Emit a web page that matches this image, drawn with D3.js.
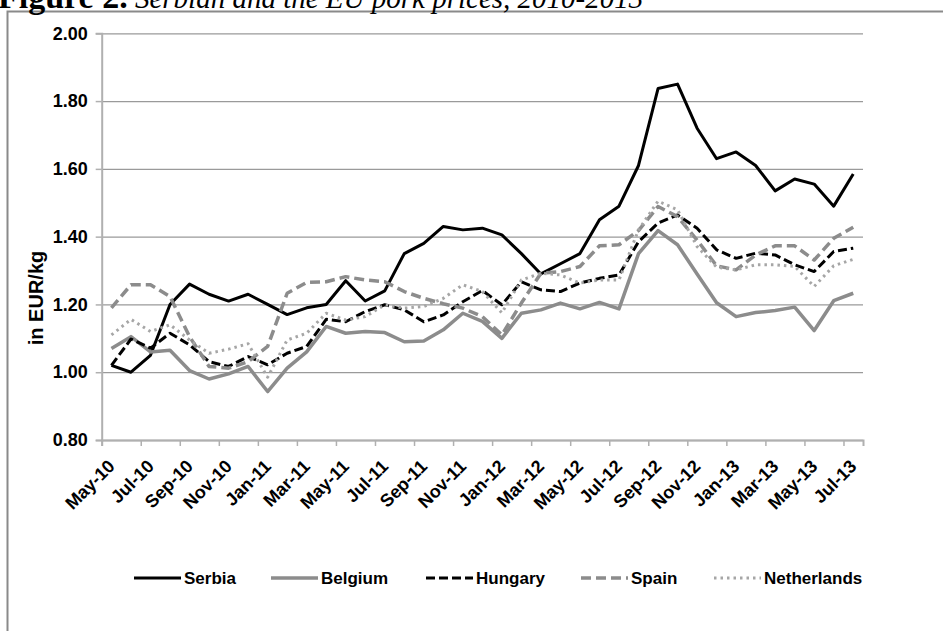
<!DOCTYPE html>
<html>
<head>
<meta charset="utf-8">
<script src="https://cdn.jsdelivr.net/npm/d3@7"></script>
<style>
  body { margin: 0; background: #fff; }
  text { font-family: "Liberation Sans", Arial, sans-serif; }
</style>
</head>
<body>
<script>
var months = ["May-10","Jun-10","Jul-10","Aug-10","Sep-10","Oct-10","Nov-10","Dec-10",
              "Jan-11","Feb-11","Mar-11","Apr-11","May-11","Jun-11","Jul-11","Aug-11",
              "Sep-11","Oct-11","Nov-11","Dec-11","Jan-12","Feb-12","Mar-12","Apr-12",
              "May-12","Jun-12","Jul-12","Aug-12","Sep-12","Oct-12","Nov-12","Dec-12",
              "Jan-13","Feb-13","Mar-13","Apr-13","May-13","Jun-13","Jul-13"];

var serbia = [1.02,1.00,1.05,1.20,1.26,1.23,1.21,1.23,1.20,1.17,1.19,1.20,1.27,1.21,
              1.24,1.35,1.38,1.43,1.42,1.425,1.405,1.35,1.29,1.32,1.35,1.45,1.49,1.61,
              1.837,1.85,1.72,1.63,1.65,1.61,1.535,1.57,1.555,1.49,1.585];
var belgium = [1.07,1.105,1.06,1.065,1.005,0.98,0.995,1.017,0.943,1.012,1.06,1.135,1.115,1.12,
               1.117,1.09,1.092,1.125,1.174,1.15,1.10,1.174,1.184,1.204,1.187,1.206,1.187,1.35,
               1.418,1.376,1.29,1.205,1.164,1.176,1.182,1.192,1.123,1.211,1.233];
var hungary = [1.02,1.098,1.071,1.115,1.081,1.031,1.017,1.046,1.022,1.056,1.076,1.156,1.149,1.179,
               1.199,1.184,1.149,1.169,1.208,1.241,1.199,1.267,1.243,1.238,1.263,1.277,1.287,1.385,
               1.44,1.464,1.425,1.361,1.336,1.351,1.346,1.317,1.297,1.356,1.366];
var spain = [1.19,1.258,1.258,1.223,1.105,1.017,1.012,1.031,1.076,1.233,1.265,1.267,1.282,1.272,
             1.267,1.238,1.218,1.202,1.189,1.164,1.11,1.204,1.292,1.297,1.312,1.373,1.376,1.418,
             1.489,1.459,1.39,1.314,1.302,1.346,1.373,1.373,1.331,1.395,1.428];
var netherlands = [1.11,1.156,1.12,1.14,1.095,1.056,1.068,1.084,0.985,1.095,1.115,1.174,1.154,1.164,
                   1.199,1.189,1.194,1.218,1.258,1.238,1.175,1.272,1.292,1.287,1.263,1.272,1.272,1.42,
                   1.505,1.479,1.371,1.31,1.302,1.317,1.317,1.312,1.253,1.314,1.333];

var yTicks = [0.80,1.00,1.20,1.40,1.60,1.80,2.00];
var labelMonths = months.filter(function(d, i) { return i % 2 === 0; });

var series = [
  {name: "Serbia", values: serbia, color: "#000", width: 3, dash: null},
  {name: "Belgium", values: belgium, color: "#8c8c8c", width: 3.5, dash: null},
  {name: "Hungary", values: hungary, color: "#000", width: 3, dash: "9,4"},
  {name: "Spain", values: spain, color: "#8c8c8c", width: 3.5, dash: "10,5"},
  {name: "Netherlands", values: netherlands, color: "#a6a6a6", width: 3, dash: "2.5,4"}
];

var svg = d3.select("body").append("svg")
    .attr("width", 943)
    .attr("height", 631);

// frame round the chart
svg.append("rect")
    .attr("x", 7.5).attr("y", 11.5)
    .attr("width", 1000).attr("height", 700)
    .attr("fill", "none").attr("stroke", "#8a8a8a").attr("stroke-width", 2);

// caption, cut by the top edge
var title = svg.append("text")
    .attr("x", -2).attr("y", 8)
    .style("font-family", "'Liberation Serif', 'Times New Roman', serif");
title.append("tspan").style("font-weight", "bold").style("font-size", "34px").text("Figure 2.");
title.append("tspan").style("font-style", "italic").style("font-size", "29px")
    .text(" Serbian and the EU pork prices, 2010-2013");

var left = 101.7, right = 863;
var x = d3.scaleBand().domain(months).range([left, right]);
var xIdx = d3.scaleLinear().domain([0, months.length]).range([left, right]);
var y = d3.scaleLinear().domain([0.8, 2.0]).range([440, 33.3]);

// gridlines
svg.append("g")
    .attr("transform", "translate(" + left + ",0)")
    .call(d3.axisLeft(y).tickValues(yTicks).tickSize(-(right - left)).tickFormat(""))
    .call(function(g) {
      g.select(".domain").remove();
      g.selectAll("line").attr("stroke", "#9a9a9a").attr("stroke-width", 1.3);
    });

// y axis
svg.append("g")
    .attr("transform", "translate(" + left + ",0)")
    .call(d3.axisLeft(y).tickValues(yTicks).tickSize(6).tickPadding(8).tickFormat(d3.format(".2f")))
    .call(function(g) {
      g.select(".domain").attr("stroke", "#b0b0b0").attr("stroke-width", 2);
      g.selectAll("line").attr("stroke", "#b0b0b0").attr("stroke-width", 1.5);
      g.selectAll("text").attr("fill", "#000")
        .style("font-size", "18px").style("font-weight", "bold");
    });

// x axis line and ticks on category edges
svg.append("g")
    .attr("transform", "translate(0,440)")
    .call(d3.axisBottom(xIdx).tickValues(d3.range(0, months.length, 2)).tickSize(6).tickFormat(""))
    .call(function(g) {
      g.select(".domain").attr("stroke", "#b0b0b0").attr("stroke-width", 2);
      g.selectAll("line").attr("stroke", "#b0b0b0").attr("stroke-width", 1.5);
    });

// x labels
svg.append("g")
    .selectAll("text")
    .data(labelMonths)
    .enter()
    .append("text")
    .attr("transform", function(d) {
      return "translate(" + (x(d) + x.bandwidth() / 2) + ",463) rotate(-45)";
    })
    .attr("text-anchor", "end")
    .attr("dy", "0.35em")
    .style("font-size", "18px")
    .style("font-weight", "bold")
    .text(function(d) { return d; });

// y title
svg.append("text")
    .attr("transform", "translate(36,298) rotate(-90)")
    .attr("text-anchor", "middle")
    .attr("dy", "0.35em")
    .style("font-size", "20px")
    .style("font-weight", "bold")
    .text("in EUR/kg");

var line = d3.line()
    .x(function(d, i) { return x(months[i]) + x.bandwidth() / 2; })
    .y(function(d) { return y(d); });

svg.selectAll(".series")
    .data(series)
    .enter()
    .append("path")
    .attr("class", "series")
    .attr("d", function(s) { return line(s.values); })
    .attr("fill", "none")
    .attr("stroke", function(s) { return s.color; })
    .attr("stroke-width", function(s) { return s.width; })
    .attr("stroke-dasharray", function(s) { return s.dash; })
    .attr("stroke-linejoin", "round");

// legend
var legendX = [134, 271, 426, 581, 714];
var legend = svg.selectAll(".legend")
    .data(series)
    .enter()
    .append("g")
    .attr("class", "legend")
    .attr("transform", function(s, i) { return "translate(" + legendX[i] + ",578)"; });

legend.append("line")
    .attr("x1", 0).attr("x2", 47)
    .attr("stroke", function(s) { return s.color; })
    .attr("stroke-width", function(s) { return s.width; })
    .attr("stroke-dasharray", function(s) { return s.dash; });

legend.append("text")
    .attr("x", 50)
    .attr("dy", "0.35em")
    .style("font-size", "17px")
    .style("font-weight", "bold")
    .text(function(s) { return s.name; });
</script>
</body>
</html>
